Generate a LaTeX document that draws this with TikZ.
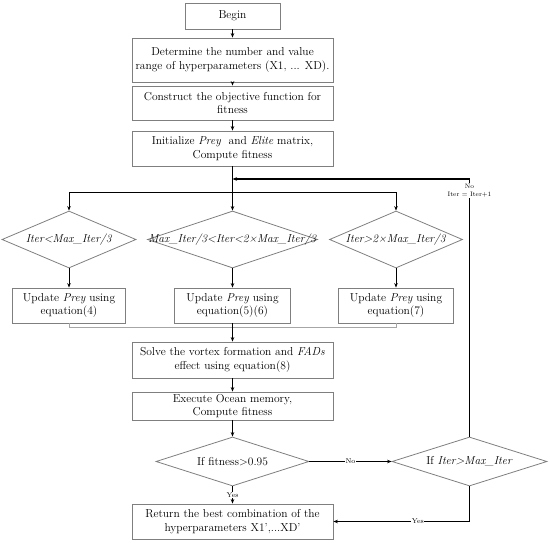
\documentclass[tikz,border=0pt]{standalone}
\usepackage{fontspec}
\usetikzlibrary{shapes.geometric,arrows.meta,calc}
\definecolor{boxgray}{HTML}{7F7F7F}
\definecolor{linegray}{HTML}{A6A6A6}
\newcommand{\mainfs}{\fontsize{11.5}{13.5}\selectfont}
\begin{document}
\begin{tikzpicture}[x=1pt,y=-1pt,
  box/.style={draw=boxgray, line width=0.8pt, fill=white, align=center, inner sep=1pt, font=\mainfs},
  dia/.style={draw=boxgray, line width=0.8pt, shape=diamond, inner sep=0pt},
  dtext/.style={font=\mainfs, inner sep=0pt},
  arr/.style={-{Stealth[length=4.5pt,width=3.5pt]}, line width=0.9pt},
  lab/.style={font=\fontsize{7}{8}\selectfont, fill=white, inner sep=0.6pt, align=center}]
\useasboundingbox (0,0) rectangle (550,543);
% boxes
\node[box, minimum width=95pt, minimum height=26pt] (begin) at (232.5,16) {Begin};
\node[box, minimum width=201pt, minimum height=44pt] (det) at (232.5,60) {Determine the number and value\\range of hyperparameters (X1, ... XD).};
\node[box, minimum width=201pt, minimum height=34pt] (con) at (232.5,103) {Construct the objective function for\\fitness};
\node[box, minimum width=201pt, minimum height=35pt] (init) at (232.5,148.5) {Initialize \textit{Prey}\ \ and \textit{Elite} matrix,\\Compute fitness};
% diamonds
\node[dia, minimum width=134pt, minimum height=57pt] (d1) at (69,239.5) {};
\node[dtext] (t1) at (d1) {\textit{Iter<Max\_Iter/3}};
\node[dia, minimum width=170pt, minimum height=57pt] (d2) at (232.5,239.5) {};
\node[dtext] (t2) at (d2) {\textit{Max\_Iter/3<Iter<2×Max\_Iter/3}};
\node[dia, minimum width=133pt, minimum height=57pt] (d3) at (396,239.5) {};
\node[dtext] (t3) at (d3) {\textit{Iter>2×Max\_Iter/3}};
% update boxes
\node[box, minimum width=113pt, minimum height=35pt] (u1) at (69,305.5) {Update \textit{Prey} using\\equation(4)};
\node[box, minimum width=116pt, minimum height=35pt] (u2) at (232.5,305.5) {Update \textit{Prey} using\\equation(5)(6)};
\node[box, minimum width=115pt, minimum height=35pt] (u3) at (396,305.5) {Update \textit{Prey} using\\equation(7)};
\node[box, minimum width=201pt, minimum height=36pt] (solve) at (232.5,360) {Solve the vortex formation and \textit{FADs}\\effect using equation(8)};
\node[box, minimum width=201pt, minimum height=28pt] (exec) at (232.5,406) {Execute Ocean memory,\\Compute fitness};
\node[dia, minimum width=153pt, minimum height=49pt] (fit) at (232.5,461.5) {};
\node[dtext] (tf) at (fit) {If fitness>0.95};
\node[dia, minimum width=155pt, minimum height=49pt] (iter) at (469.5,461.5) {};
\node[dtext] (ti) at (iter) {If \textit{Iter>Max\_Iter}};
\node[box, minimum width=201pt, minimum height=35pt] (ret) at (232.5,521.5) {Return the best combination of the\\hyperparameters X1',...XD'};
% coordinates
\coordinate (br) at (232.5,192);
\coordinate (fb) at (232.5,179);
% connectors
\draw[arr] (begin) -- (det);
\draw[arr] (det) -- (con);
\draw[arr] (con) -- (init);
\draw[arr] (init) -- (d2);
\draw[arr] (br) -| (d1.north);
\draw[arr] (br) -| (d3.north);
\draw[arr] (d1) -- (u1);
\draw[arr] (d2) -- (u2);
\draw[arr] (d3) -- (u3);
\draw[linegray, line width=0.8pt] (u1.south) -- ++(0,3.5) -| (u3.south);
\draw[arr] (u2) -- (solve);
\draw[arr] (solve) -- (exec);
\draw[arr] (exec) -- (fit);
\draw[arr] (fit) -- node[lab] (ly1) {Yes} (ret);
\draw[arr, line width=1.1pt] (fit) -- node[lab] (ln1) {No} (iter);
\draw[arr] (iter.south) |- node[lab, pos=0.69] (ly2) {Yes} (ret.east);
\draw[arr, line width=1.1pt] (iter.north) |- (fb);
\node[lab, font=\fontsize{6.5}{8}\selectfont] (fbl) at (469.5,190.5) {No\\Iter = Iter+1};
\end{tikzpicture}
\end{document}
